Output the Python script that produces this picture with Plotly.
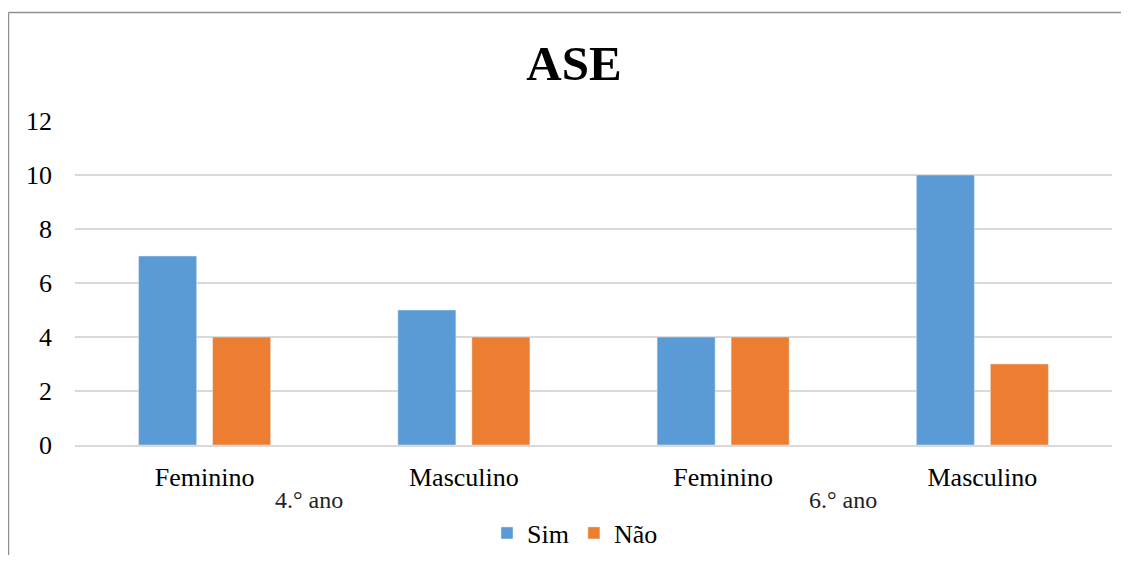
import plotly.graph_objects as go

categories = ["Feminino", "Masculino", "Feminino", "Masculino"]
groups = ["4.° ano", "6.° ano"]
sim = [7, 5, 4, 10]
nao = [4, 4, 4, 3]

OFF = 8  # page body margin
W, H = 1129 - OFF, 563 - 2 * OFF
L = 75 - OFF
T = 121 - OFF
R = W - (1112 - OFF)
B = H - (445 - OFF)
pw, ph = W - L - R, H - T - B

def px_x(x):
    return (x - OFF - L) / pw

def px_y(y):
    return 1 - (y - OFF - T) / ph

def cx(x):
    return (x - OFF) / W

def cy(y):
    return 1 - (y - OFF) / H

xs = list(range(len(categories)))
serif = "Liberation Serif"

fig = go.Figure()
fig.add_trace(go.Bar(x=xs, y=sim, name="Sim", marker_color="#5B9BD5"))
fig.add_trace(go.Bar(x=xs, y=nao, name="Não", marker_color="#ED7D31"))

fig.update_layout(
    width=W, height=H,
    margin=dict(l=L, r=R, t=T, b=B, autoexpand=False),
    paper_bgcolor="white", plot_bgcolor="white",
    bargap=0.429, bargroupgap=0.216,
    font=dict(family=serif, size=26, color="#000"),
    title=dict(text="<b>ASE</b>", x=cx(574), xanchor="center",
               y=cy(63), yanchor="middle",
               font=dict(family=serif, size=49, color="#000")),
    showlegend=True,
    legend=dict(orientation="h", xref="container", yref="container",
                x=cx(575), xanchor="center", y=cy(533), yanchor="middle",
                font=dict(family=serif, size=26, color="#000"), itemwidth=30,
                traceorder="normal"),
    xaxis=dict(tickmode="array", tickvals=xs, ticktext=categories, range=[-0.5, 3.5],
               showgrid=False, showline=True, linecolor="#d9d9d9", linewidth=1.5,
               ticks="", ticklabelstandoff=8, zeroline=False, automargin=False,
               tickfont=dict(family=serif, size=26, color="#000")),
    yaxis=dict(range=[0, 12], dtick=2, showgrid=True, gridcolor="#d9d9d9", gridwidth=1.5,
               zeroline=False, showline=False, ticks="", ticklabelstandoff=22, automargin=False,
               tickfont=dict(family=serif, size=26, color="#000")),
)

for gx, label in zip([309, 843], groups):
    fig.add_annotation(text=label, xref="paper", yref="paper", x=px_x(gx), y=px_y(500),
                       xanchor="center", yanchor="middle", showarrow=False,
                       font=dict(family=serif, size=24, color="#222"))

fig.add_shape(type="line", xref="paper", yref="paper", x0=px_x(8.5), x1=px_x(8.5),
              y0=px_y(12.5), y1=px_y(600), line=dict(color="#8f8f8f", width=1.5))
fig.add_shape(type="line", xref="paper", yref="paper", x0=px_x(8.5), x1=px_x(1200),
              y0=px_y(12.5), y1=px_y(12.5), line=dict(color="#8f8f8f", width=1.5))

fig.write_html("out.html")
